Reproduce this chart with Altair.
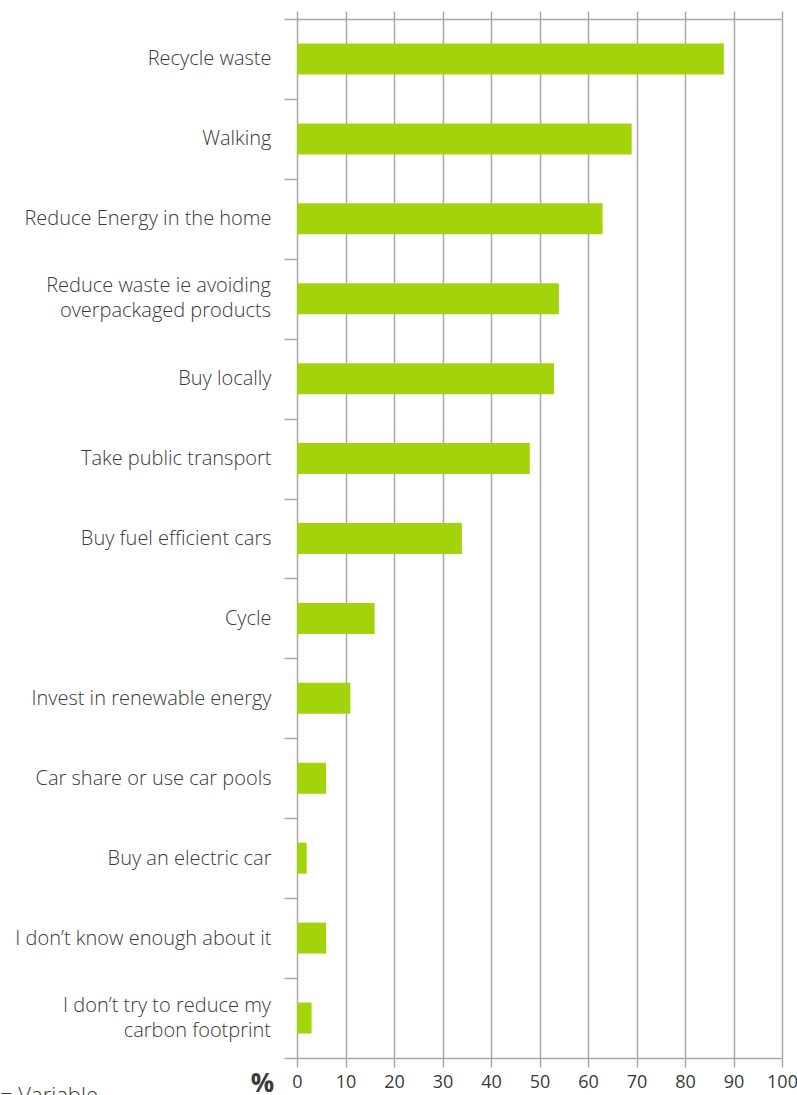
import altair as alt
import pandas as pd

categories = [
    "Recycle waste",
    "Walking",
    "Reduce Energy in the home",
    "Reduce waste ie avoiding|overpackaged products",
    "Buy locally",
    "Take public transport",
    "Buy fuel efficient cars",
    "Cycle",
    "Invest in renewable energy",
    "Car share or use car pools",
    "Buy an electric car",
    "I don\u2019t know enough about it",
    "I  don\u2019t try to reduce my|carbon footprint",
]
values = [88, 69, 63, 54, 53, 48, 34, 16, 11, 6, 2, 6, 3]
x_ticks = [0, 10, 20, 30, 40, 50, 60, 70, 80, 90, 100]

df = pd.DataFrame({"category": categories, "value": values})
df_multi = df[df["category"].str.contains("|", regex=False)]

GRID = "#a9a9a9"
BAR = "#a3d30a"
TXT = "#3a3a3a"
FONT = "Open Sans"
LABEL_SIZE = 20

xscale = alt.Scale(domain=[0, 100], nice=False)

y_axis = alt.Axis(
    title=None,
    domain=False,
    ticks=True,
    tickBand="extent",
    tickSize=13,
    tickColor=GRID,
    tickWidth=1.5,
    labelExpr="indexof(datum.label, '|') >= 0 ? '' : datum.label",
    labelFont=FONT,
    labelFontSize=LABEL_SIZE,
    labelFontWeight=300,
    labelColor=TXT,
    labelPadding=13,
    labelLimit=300,
)
y_enc = alt.Y(
    "category:N",
    sort=categories,
    scale=alt.Scale(paddingInner=0, paddingOuter=0),
    axis=y_axis,
)

bars = alt.Chart(df).mark_bar(color=BAR, size=31).encode(
    x=alt.X(
        "value:Q",
        scale=xscale,
        axis=alt.Axis(
            orient="bottom",
            values=x_ticks,
            grid=True,
            gridColor=GRID,
            gridWidth=1.5,
            domain=True,
            domainColor=GRID,
            domainWidth=1.5,
            ticks=True,
            tickSize=9,
            tickColor=GRID,
            tickWidth=1.5,
            labelFont=FONT,
            labelFontSize=18,
            labelColor=TXT,
            labelPadding=6,
            labelFlush=False,
            labelOverlap=False,
            title="%",
            titleFont=FONT,
            titleFontSize=26,
            titleFontWeight="bold",
            titleColor=TXT,
            titleAngle=0,
            titleX=-35,
            titleY=25,
            titleAlign="center",
            titleBaseline="middle",
        ),
    ),
    y=y_enc,
)

multi_labels = alt.Chart(df_multi).mark_text(
    align="right",
    baseline="middle",
    dy=-12.5,
    lineBreak="|",
    lineHeight=25,
    font=FONT,
    fontSize=LABEL_SIZE,
    fontWeight=300,
    color=TXT,
).encode(y=y_enc, x=alt.value(-26), text="category:N")

top_axis = alt.Chart(df).mark_point(opacity=0).encode(
    x=alt.X(
        "value:Q",
        scale=xscale,
        axis=alt.Axis(
            orient="top",
            values=x_ticks,
            grid=False,
            labels=False,
            domain=True,
            domainColor=GRID,
            domainWidth=1.5,
            ticks=True,
            tickSize=8,
            tickColor=GRID,
            tickWidth=1.5,
            title=None,
        ),
    ),
)

note = alt.Chart(pd.DataFrame({"t": ["= Variable"]})).mark_text(
    align="left", baseline="alphabetic", font=FONT, fontSize=22, fontWeight=300, color=TXT
).encode(text="t:N", x=alt.value(-297), y=alt.value(1084))

chart = (
    alt.layer(bars, multi_labels, top_axis, note)
    .resolve_axis(x="independent")
    .properties(
        width=485,
        height=1039,
        autosize=alt.AutoSizeParams(type="none"),
        padding={"left": 297, "top": 19, "right": 15, "bottom": 37},
    )
    .configure_view(stroke=None)
    .configure(background="white")
)

chart.save("out.html", embed_options={"renderer": "svg", "actions": False})
